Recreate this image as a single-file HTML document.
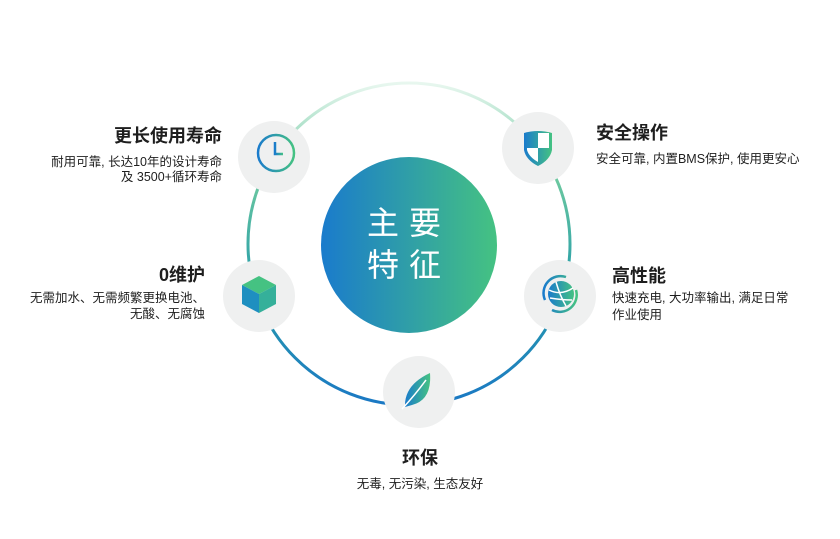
<!DOCTYPE html>
<html><head><meta charset="utf-8">
<style>
html,body{margin:0;padding:0;background:#fff;}
body{width:840px;height:539px;position:relative;overflow:hidden;font-family:"Liberation Sans","Noto Sans CJK SC",sans-serif;color:#222;}
.t{position:absolute;font-size:18px;font-weight:bold;line-height:22px;white-space:nowrap;color:#1e1e1e;}
.s{position:absolute;font-size:12.5px;line-height:16px;white-space:nowrap;color:#1e1e1e;}
.r{text-align:right;}
</style></head><body>
<svg width="840" height="539" style="position:absolute;left:0;top:0">
<defs>
<linearGradient id="ring" x1="0" y1="0" x2="0" y2="1">
<stop offset="0" stop-color="#e8f7ef"/>
<stop offset="0.3" stop-color="#6cc8a0"/>
<stop offset="0.6" stop-color="#2aa0a8"/>
<stop offset="1" stop-color="#1a78c4"/>
</linearGradient>
<linearGradient id="g" x1="0" y1="0" x2="1" y2="0">
<stop offset="0" stop-color="#1a7bcc"/>
<stop offset="1" stop-color="#45c282"/>
</linearGradient>
</defs>
<circle cx="409" cy="244" r="161" fill="none" stroke="url(#ring)" stroke-width="3"/>
<circle cx="409" cy="245" r="88" fill="url(#g)"/>
<text x="409" y="234" text-anchor="middle" font-size="32" fill="#fff" letter-spacing="10" font-family="Noto Sans CJK SC,sans-serif">主要</text>
<text x="409" y="276" text-anchor="middle" font-size="32" fill="#fff" letter-spacing="10" font-family="Noto Sans CJK SC,sans-serif">特征</text>
<g fill="#eff0f0">
<circle cx="274" cy="157" r="36"/>
<circle cx="538" cy="148" r="36"/>
<circle cx="259" cy="296" r="36"/>
<circle cx="560" cy="296" r="36"/>
<circle cx="419" cy="392" r="36"/>
</g>
<circle cx="276" cy="153" r="18" fill="none" stroke="url(#g)" stroke-width="2.5"/>
<path d="M275 142 V154 H283" fill="none" stroke="url(#g)" stroke-width="2.5"/>
<path d="M524 133 Q538 129 552 133 V150 Q550 160 538 166 Q526 160 524 150 Z" fill="url(#g)"/>
<path d="M538 133 H549 V148 H538 Z M527 148 H538 V162 Q529 157 527 150 Z" fill="#fff"/>
<path d="M259 276 L276 285 L259 294 L242 285 Z" fill="#45c282"/>
<path d="M242 285 L259 294 V313 L242 304 Z" fill="#1e8fc0"/>
<path d="M276 285 L259 294 V313 L276 304 Z" fill="#35b09a"/>
<circle cx="561" cy="294" r="13" fill="url(#g)"/>
<path d="M549 290 Q561 296 573 288 M556 282 Q560 296 566 306 M550 298 Q562 300 572 300" fill="none" stroke="#fff" stroke-width="1.5"/>
<path d="M545 300 A17 17 0 0 1 566 277 M576 290 A17 17 0 0 1 552 310" fill="none" stroke="url(#g)" stroke-width="2.5"/>
<path d="M405 407 Q404 385 430 373 Q432 400 412 405 Z" fill="url(#g)"/>
<path d="M402 409 Q415 395 426 380" fill="none" stroke="#fff" stroke-width="1.5"/>
</svg>

<div class="t r" style="right:618px;top:125px">更长使用寿命</div>
<div class="s r" style="right:618px;top:154px">耐用可靠, 长达10年的设计寿命</div>
<div class="s r" style="right:618px;top:169px">及 3500+循环寿命</div>

<div class="t r" style="right:635px;top:264px">0维护</div>
<div class="s r" style="right:635px;top:290px">无需加水、无需频繁更换电池、</div>
<div class="s r" style="right:635px;top:306px">无酸、无腐蚀</div>

<div class="t" style="left:596px;top:122px">安全操作</div>
<div class="s" style="left:596px;top:151px">安全可靠, 内置BMS保护, 使用更安心</div>

<div class="t" style="left:612px;top:265px">高性能</div>
<div class="s" style="left:612px;top:290px">快速充电, 大功率输出, 满足日常</div>
<div class="s" style="left:612px;top:307px">作业使用</div>

<div class="t" style="left:320px;width:200px;text-align:center;top:447px">环保</div>
<div class="s" style="left:320px;width:200px;text-align:center;top:476px">无毒, 无污染, 生态友好</div>
</body></html>
